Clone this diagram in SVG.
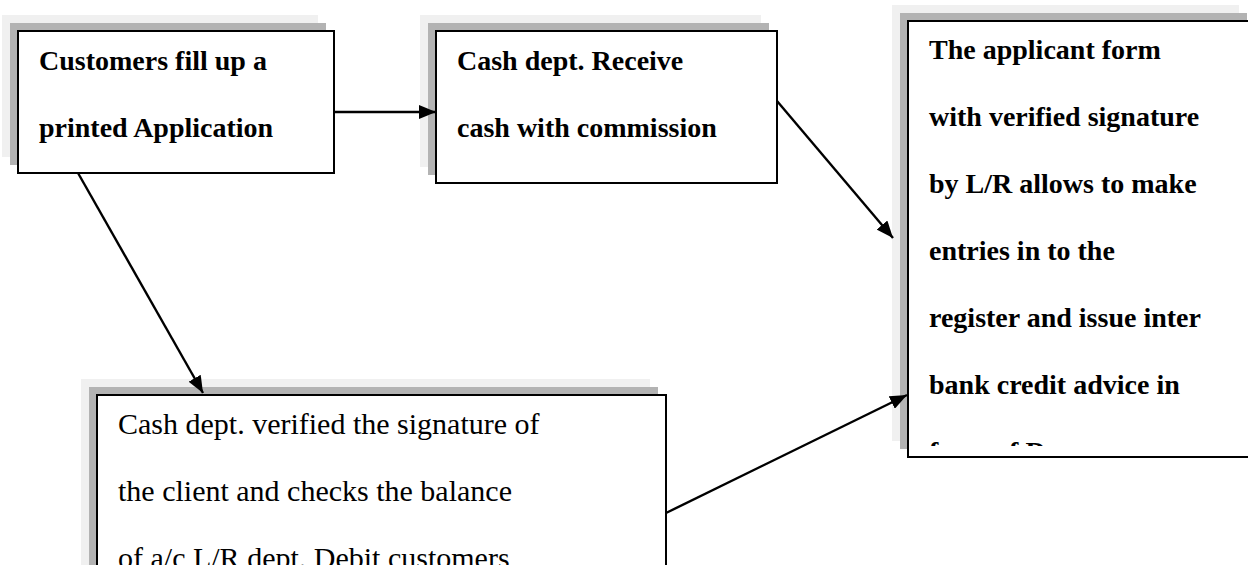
<svg xmlns="http://www.w3.org/2000/svg" width="1248" height="565" viewBox="0 0 1248 565">
<style>
.sh1{fill:#f0f0f0}
.sh2{fill:#b3b3b3}
.box{fill:#fff;stroke:#000;stroke-width:2}
.tb{font-family:"Liberation Serif",serif;font-weight:bold;font-size:28px;fill:#000}
.tr{font-family:"Liberation Serif",serif;font-size:30px;fill:#000}
.conn{stroke:#000;stroke-width:2.4;fill:none;marker-end:url(#ah)}
</style>
<defs>
<marker id="ah" markerUnits="userSpaceOnUse" markerWidth="17" markerHeight="14" refX="17" refY="7" orient="auto">
<path d="M0,0 L17,7 L0,14 z" fill="#000"/>
</marker>
<clipPath id="clip3"><rect x="908" y="21" width="347" height="425"/></clipPath>
</defs>
<rect width="1248" height="565" fill="#fff"/>

<g id="node-application">
<rect class="sh1" x="2" y="15" width="316" height="142"/>
<rect class="sh2" x="10" y="23" width="316" height="142"/>
<rect class="box" x="18" y="31" width="316" height="142"/>
<text class="tb" x="39" y="70">Customers fill up a</text>
<text class="tb" x="39" y="137">printed Application</text>
</g>

<g id="node-cash-receive">
<rect class="sh1" x="420" y="15" width="341" height="152"/>
<rect class="sh2" x="428" y="23" width="341" height="152"/>
<rect class="box" x="436" y="31" width="341" height="152"/>
<text class="tb" x="457" y="70">Cash dept. Receive</text>
<text class="tb" x="457" y="137">cash with commission</text>
</g>

<g id="node-applicant-form">
<rect class="sh1" x="892" y="5" width="347" height="436"/>
<rect class="sh2" x="900" y="13" width="347" height="436"/>
<rect class="box" x="908" y="21" width="347" height="436"/>
<g clip-path="url(#clip3)">
<text class="tb" x="929" y="59">The applicant form</text>
<text class="tb" x="929" y="126">with verified signature</text>
<text class="tb" x="929" y="193">by L/R allows to make</text>
<text class="tb" x="929" y="260">entries in to the</text>
<text class="tb" x="929" y="327">register and issue inter</text>
<text class="tb" x="929" y="394">bank credit advice in</text>
<text class="tb" x="929" y="461">form of D</text>
</g>
</g>

<g id="node-verify">
<rect class="sh1" x="81" y="379" width="569" height="200"/>
<rect class="sh2" x="89" y="387" width="569" height="200"/>
<rect class="box" x="97" y="395" width="569" height="200"/>
<text class="tr" x="118" y="434">Cash dept. verified the signature of</text>
<text class="tr" x="118" y="501">the client and checks the balance</text>
<text class="tr" x="118" y="568">of a/c L/R dept. Debit customers</text>
</g>

<g id="connectors">
<line class="conn" x1="334" y1="112" x2="436" y2="112"/>
<line class="conn" x1="777" y1="101" x2="893" y2="238"/>
<line class="conn" x1="78" y1="173" x2="203" y2="393"/>
<line class="conn" x1="666" y1="513" x2="907" y2="395"/>
</g>
</svg>
